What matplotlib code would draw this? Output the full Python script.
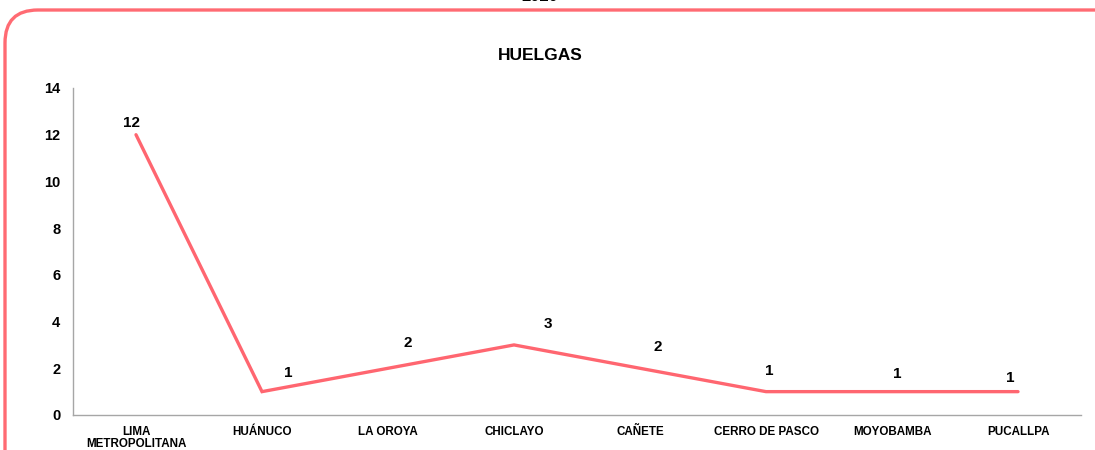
import matplotlib
matplotlib.use("Agg")
import matplotlib.pyplot as plt
from matplotlib.patches import FancyBboxPatch

categories = ["LIMA\nMETROPOLITANA", "HUÁNUCO", "LA OROYA", "CHICLAYO",
              "CAÑETE", "CERRO DE PASCO", "MOYOBAMBA", "PUCALLPA"]
values = [12, 1, 2, 3, 2, 1, 1, 1]
yticks = [0, 2, 4, 6, 8, 10, 12, 14]
title = "HUELGAS"
top_text = "2020"

plt.rcParams['font.family'] = ['Liberation Sans', 'DejaVu Sans']
W, H = 1095, 450
fig = plt.figure(figsize=(W / 100, H / 100), dpi=100)

# rounded border
border = FancyBboxPatch((5 / W, -40 / H), (W + 40) / W, (H - 10 + 40) / H,
                        boxstyle="round,pad=0,rounding_size=0.03",
                        transform=fig.transFigure, fill=False,
                        edgecolor="#FF6B73", linewidth=2.4, mutation_aspect=W / H)
fig.patches.append(border)

fig.text(540 / W, (H - 4) / H, top_text, ha="center", va="bottom",
         fontsize=12, fontweight="bold")

ax = fig.add_axes([73 / W, (H - 415) / H, (1081 - 73) / W, (415 - 88) / H])
x = list(range(len(categories)))
ax.plot(x, values, color="#FF6670", linewidth=2.4, solid_capstyle="round",
        solid_joinstyle="miter")
ax.set_xlim(-0.5, len(categories) - 0.5)
ax.set_ylim(0, 14)
ax.set_yticks(yticks)
ax.set_xticks(x)
ax.set_xticklabels(categories, fontsize=8.4, fontweight="bold", linespacing=0.95)
for lbl in ax.get_yticklabels():
    lbl.set_fontweight("bold")
    lbl.set_fontsize(10.5)
ax.tick_params(axis="both", length=0)
ax.tick_params(axis="y", pad=9)
ax.tick_params(axis="x", pad=8)
for s in ["top", "right"]:
    ax.spines[s].set_visible(False)
for s in ["left", "bottom"]:
    ax.spines[s].set_color("#A6A6A6")
    ax.spines[s].set_linewidth(1.0)

offsets_px = [(-4, 12), (26, 19), (20, 25), (34, 21), (18, 21), (3, 21), (5, 18), (-8, 14)]
for xi, v, (dx, dy) in zip(x, values, offsets_px):
    ax.annotate(str(v), (xi, v), xytext=(dx * 0.72, dy * 0.72),
                textcoords="offset points", ha="center", va="center",
                fontsize=11, fontweight="bold")

fig.text(540 / W, (H - 55) / H, title, ha="center", va="center",
         fontsize=12.5, fontweight="bold")

fig.savefig("out.png", dpi=100)
